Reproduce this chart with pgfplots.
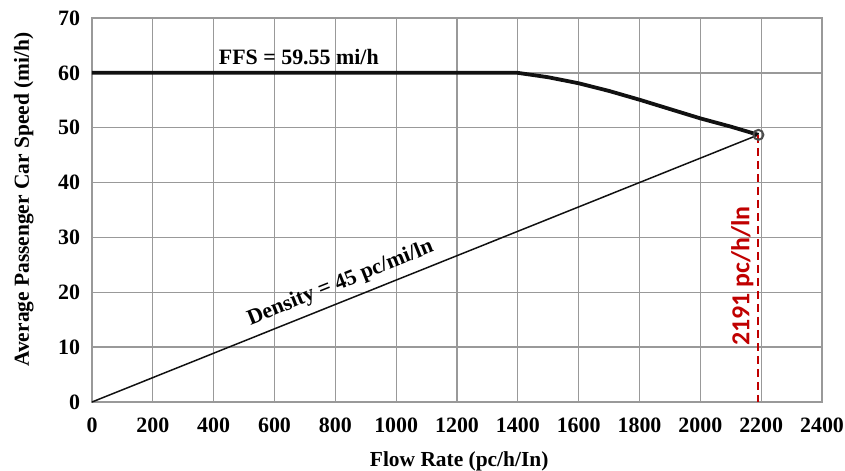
\documentclass[border=0pt]{standalone}
\usepackage{fontspec}
\setmainfont{Liberation Serif}
\newfontfamily\calib{Carlito}
\usepackage{pgfplots}
\pgfplotsset{compat=1.18}
\definecolor{gridgray}{HTML}{999999}
\definecolor{capred}{HTML}{C00000}
\definecolor{ink}{HTML}{111111}

\begin{document}
\begin{tikzpicture}
\begin{axis}[
    scale only axis,
    width=730bp, height=384bp,
    xmin=0, xmax=2400, ymin=0, ymax=70,
    xtick={0,200,...,2400}, ytick={0,10,...,70},
    grid=major,
    grid style={gridgray, line width=1.3pt},
    axis line style={gridgray, line width=1.3pt},
    major tick length=0pt,
    tick label style={font=\fontsize{22}{24}\selectfont\bfseries},
    /pgf/number format/assume math mode=true,
    /pgf/number format/1000 sep={},
    xticklabel style={yshift=-12.5bp},
    yticklabel style={xshift=-8.5bp},
    xlabel={\textbf{Flow Rate (pc/h/In)}},
    ylabel={\textbf{Average Passenger Car Speed (mi/h)}},
    every axis x label/.style={at={(axis description cs:0.503,0)}, anchor=north,
      inner sep=0pt, yshift=-49bp, font=\fontsize{21.5}{24}\selectfont},
    every axis y label/.style={at={(axis description cs:-0.107,0.527)}, rotate=90,
      anchor=north, inner sep=0pt, font=\fontsize{21.5}{24}\selectfont},
    clip=false,
  ]
  % speed-flow curve
  \addplot[ink, line width=3.8pt, line join=round] coordinates {
    (0,60) (1400,60) (1500,59.2) (1600,58.1) (1700,56.7) (1800,55.1)
    (1900,53.4) (2000,51.7) (2100,50.2) (2191,48.7)};
  % density line
  \addplot[ink, line width=1.5pt] coordinates {(0,0) (2191,48.7)};
  % capacity
  \addplot[capred, line width=2pt, dash pattern=on 8bp off 5bp]
    coordinates {(2191,48.7) (2191,0)};
  \addplot[only marks, mark=o, mark size=5pt, mark options={draw=ink!75, fill=white, line width=2pt}]
    coordinates {(2191,48.7)};
  \node[anchor=base, font=\fontsize{22}{24}\selectfont\bfseries, inner sep=0pt]
    at (axis cs:680,61.46) {FFS = 59.55 mi/h};
  \node[anchor=base, rotate=21.8, font=\fontsize{22}{24}\selectfont\bfseries, inner sep=0pt]
    at (axis cs:823.6,20.74) {Density = 45 pc/mi/ln};
  \node[anchor=base, rotate=90, inner sep=0pt, text=capred, font=\calib\fontsize{26}{28}\selectfont\bfseries]
    at (axis cs:2161.6,22.97) {2191 pc/h/ln};
\end{axis}
\pgfresetboundingbox
\path ([shift={(-92bp,-69bp)}]current axis.south west) rectangle ++(845bp,471bp);
\end{tikzpicture}
\end{document}
